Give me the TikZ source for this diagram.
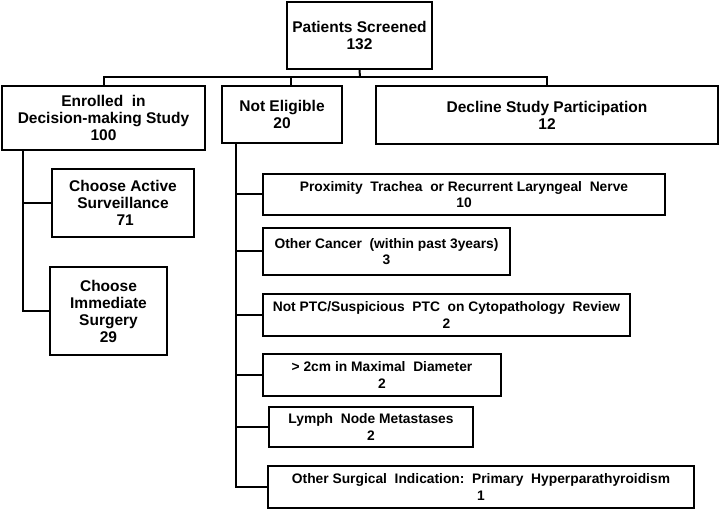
\documentclass[tikz,border=0pt]{standalone}
\usepackage{fontspec}
\setmainfont{Liberation Sans}
\begin{document}
\begin{tikzpicture}[x=1pt,y=-1pt,line width=2pt,
  box/.style={draw=black,line width=2pt,inner sep=0pt,align=center,font=\bfseries\fontsize{15.5}{17}\selectfont},
  smallbox/.style={box,font=\bfseries\fontsize{13.8}{16.7}\selectfont}]
\useasboundingbox (0,0) rectangle (720,510);
\node[box,minimum width=145,minimum height=67] (top) at (359.5,35.5) {Patients Screened\\132};
\node[box,minimum width=203,minimum height=64] (enr) at (103.5,118) {Enrolled\ \ in\\Decision-making Study\\100};
\node[box,minimum width=120,minimum height=57] (ne) at (282,114.5) {Not Eligible\\20};
\node[box,minimum width=342,minimum height=58] (dec) at (547,115) {Decline Study Participation\\12};
\node[box,minimum width=142,minimum height=68] (act) at (123,203) {Choose Active\\Surveillance\\\ 71};
\node[box,minimum width=117,minimum height=88] (sur) at (108.5,311) {Choose\\Immediate\\Surgery\\29};
\node[smallbox,minimum width=402,minimum height=41] (prox) at (464,194.5) {Proximity\ \ Trachea\ \ or Recurrent Laryngeal\ \ Nerve\\10};
\node[smallbox,minimum width=247,minimum height=47] (canc) at (386.5,251.5) {Other Cancer\ \ (within past 3years)\\3};
\node[smallbox,minimum width=367,minimum height=42] (ptc) at (446.5,315) {Not PTC/Suspicious\ \ PTC\ \ on Cytopathology\ \ Review\\2};
\node[smallbox,minimum width=238,minimum height=42] (diam) at (382,375) {> 2cm in Maximal\ \ Diameter\\2};
\node[smallbox,minimum width=204,minimum height=40] (lym) at (371,427) {Lymph\ \ Node Metastases\\2};
\node[smallbox,minimum width=426,minimum height=42] (oth) at (481,487) {Other Surgical\ \ Indication:\ \ Primary\ \ Hyperparathyroidism\\1};
% top tree
\coordinate (bar) at (360,77);
\coordinate (nedrop) at (291,77);
\draw (top.south) -- (bar);
\draw (enr.north) |- (bar) -| (dec.north);
\draw (nedrop) -- (nedrop |- ne.north);
% left spine
\coordinate (ls) at (23,0);
\draw (enr.south -| ls) |- (sur.west);
\draw (ls |- act.west) -- (act.west);
% right spine
\coordinate (rs) at (236,0);
\draw (ne.south -| rs) |- (oth.west);
\foreach \n in {prox,canc,ptc,diam,lym} \draw (rs |- \n.west) -- (\n.west);
\end{tikzpicture}
\end{document}
